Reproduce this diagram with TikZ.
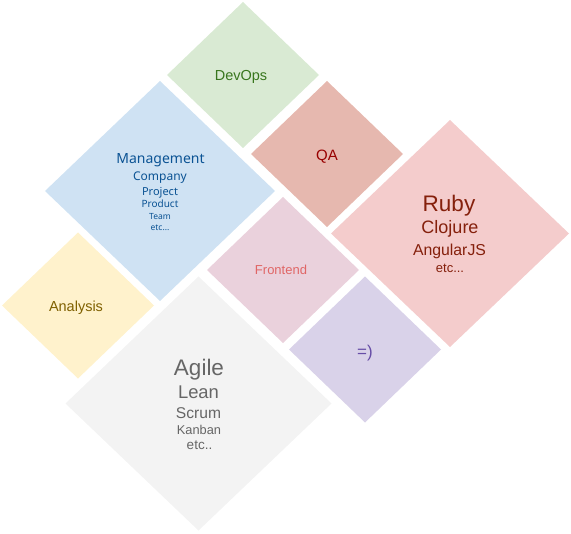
\documentclass[tikz,border=0pt]{standalone}
\usepackage{fontspec}
\setmainfont{Liberation Sans}
\newfontfamily\mgmtfont{Noto Sans}
\usetikzlibrary{shapes.geometric}
\definecolor{devopsfill}{HTML}{D9EAD3}
\definecolor{devopstext}{HTML}{38761D}
\definecolor{mgmtfill}{HTML}{CFE2F3}
\definecolor{mgmttext}{HTML}{0B5394}
\definecolor{qafill}{HTML}{E6B8AF}
\definecolor{qatext}{HTML}{980000}
\definecolor{rubyfill}{HTML}{F4CCCC}
\definecolor{rubytext}{HTML}{85200C}
\definecolor{frontfill}{HTML}{EAD1DC}
\definecolor{fronttext}{HTML}{E06666}
\definecolor{smilefill}{HTML}{D9D2E9}
\definecolor{smiletext}{HTML}{674EA7}
\definecolor{anafill}{HTML}{FFF2CC}
\definecolor{anatext}{HTML}{7F6000}
\definecolor{agilefill}{HTML}{F3F3F3}
\definecolor{agiletext}{HTML}{666666}
\newcommand\fsz[1]{\fontsize{#1bp}{#1bp}\selectfont}
\begin{document}
\begin{tikzpicture}[x=1bp,y=-1bp,
  tile/.style={diamond, inner sep=0pt, outer sep=0pt, draw=none},
  small/.style={tile, minimum width=152bp, minimum height=146bp},
  lbl/.style={anchor=base, inner sep=0pt, outer sep=0pt}]
\useasboundingbox (0,0) rectangle (571,534);
% tiles
\node[small, fill=devopsfill] (devops) at (243,75) {};
\node[tile, fill=mgmtfill, minimum width=230bp, minimum height=220bp] (mgmt) at (160,191) {};
\node[small, fill=qafill] (qa) at (327,154) {};
\node[tile, fill=rubyfill, minimum width=238bp, minimum height=227bp] (ruby) at (450,233.5) {};
\node[small, fill=frontfill] (front) at (283,270) {};
\node[small, fill=smilefill] (smile) at (365,349.5) {};
\node[small, fill=anafill] (ana) at (78,305.5) {};
\node[tile, fill=agilefill, minimum width=266bp, minimum height=254bp] (agile) at (198.5,403.5) {};
% labels
\node[lbl, text=devopstext, font=\fsz{14.5}] (devops-t) at (241,81) {DevOps};
\node[lbl, text=qatext, font=\fsz{15}] (qa-t) at (327,161) {QA};
\node[lbl, text=fronttext, font=\fsz{13}] (front-t) at (281,274) {Frontend};
\node[lbl, text=smiletext, font=\fsz{17}] (smile-t) at (365,357) {=)};
\node[lbl, text=anatext, font=\fsz{14.5}] (ana-t) at (76,311) {Analysis};
% management
\node[lbl, text=mgmttext, font=\mgmtfont\fsz{14}] (mgmt-1) at (160.5,164) {Management};
\node[lbl, text=mgmttext, font=\mgmtfont\fsz{12}] (mgmt-2) at (160,181) {Company};
\node[lbl, text=mgmttext, font=\mgmtfont\fsz{11}] (mgmt-3) at (160,196) {Project};
\node[lbl, text=mgmttext, font=\mgmtfont\fsz{10}] (mgmt-4) at (160,208) {Product};
\node[lbl, text=mgmttext, font=\mgmtfont\fsz{8.5}] (mgmt-5) at (160,220) {Team};
\node[lbl, text=mgmttext, font=\mgmtfont\fsz{8.5}] (mgmt-6) at (160,230) {etc...};
% ruby
\node[lbl, text=rubytext, font=\fsz{22.5}] (ruby-1) at (449,212) {Ruby};
\node[lbl, text=rubytext, font=\fsz{18}] (ruby-2) at (450,233) {Clojure};
\node[lbl, text=rubytext, font=\fsz{15.8}] (ruby-3) at (449.5,255) {AngularJS};
\node[lbl, text=rubytext, font=\fsz{13}] (ruby-4) at (450,272) {etc...};
% agile
\node[lbl, text=agiletext, font=\fsz{22.5}] (agile-1) at (199,375) {Agile};
\node[lbl, text=agiletext, font=\fsz{18.4}] (agile-2) at (198.5,398) {Lean};
\node[lbl, text=agiletext, font=\fsz{15.6}] (agile-3) at (198.5,418) {Scrum};
\node[lbl, text=agiletext, font=\fsz{12.8}] (agile-4) at (199,434) {Kanban};
\node[lbl, text=agiletext, font=\fsz{13.5}] (agile-5) at (199.5,449) {etc..};
\end{tikzpicture}
\end{document}
